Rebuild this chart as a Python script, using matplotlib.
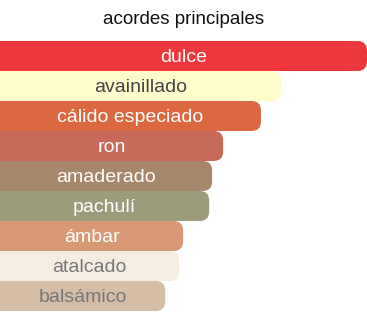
import matplotlib.pyplot as plt
from matplotlib.patches import FancyBboxPatch

plt.rcParams['font.family'] = ['Liberation Sans', 'DejaVu Sans']

# main accords, strength in percent of the strongest one
accords = ['dulce', 'avainillado', 'cálido especiado', 'ron', 'amaderado',
           'pachulí', 'ámbar', 'atalcado', 'balsámico']
strength = [100, 76.6, 71.1, 60.8, 57.8, 57.0, 49.9, 48.8, 45.0]
bar_colors = ['#EF383D', '#FEFCCB', '#DC6842', '#C86A5A', '#A7876A',
              '#9C9C7B', '#D99977', '#F5ECE2', '#D6BDA6']
text_colors = ['#FFFFFF', '#444444', '#FFFFFF', '#FFFFFF', '#FFFFFF',
               '#FFFFFF', '#FFFFFF', '#777777', '#777777']

W, H = 367, 312
fig = plt.figure(figsize=(W / 100, H / 100), dpi=100)
ax = fig.add_axes([0, 1 / H, 1, 270 / H])
ax.set_xlim(0, 100)
ax.set_ylim(len(accords) - 0.5, -0.5)
ax.axis('off')

# pixels per data unit, used to keep the corner rounding circular
px_x = W / 100
px_y = 270 / len(accords)
radius = 9.5 / px_x

for i, (name, val) in enumerate(zip(accords, strength)):
    box = FancyBboxPatch((-10, i - 0.5), val + 10, 1.0,
                         boxstyle=f'round,pad=0,rounding_size={radius}',
                         mutation_aspect=px_x / px_y,
                         facecolor=bar_colors[i], edgecolor='none')
    ax.add_patch(box)
    ax.text(val / 2, i, name, ha='center', va='center_baseline',
            fontsize=14, color=text_colors[i])

fig.text(0.5, 1 - 19.5 / H, 'acordes principales', ha='center',
         va='center', fontsize=13.5, color='#111111')

fig.savefig('out.png', dpi=100)
